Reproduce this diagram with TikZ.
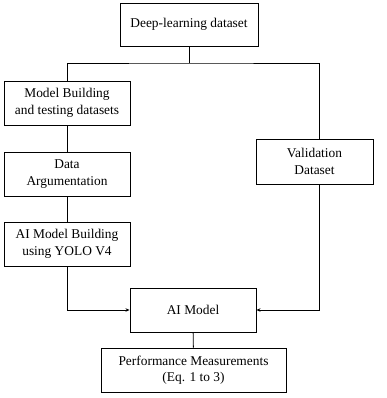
\documentclass[tikz,border=0pt]{standalone}
\usepackage{fontspec}
\setmainfont{Liberation Serif}
\usetikzlibrary{arrows.meta}
\begin{document}
\begin{tikzpicture}[x=1pt,y=-1pt,
  box/.style={draw, line width=0.9pt, align=center, inner sep=0pt,
    font=\fontsize{13.4}{16.5}\selectfont},
  link/.style={line width=0.9pt},
  arr/.style={line width=0.9pt, -{Stealth[length=4pt,width=3.5pt]}}]
\useasboundingbox (0,0) rectangle (387,398);
\node[box, minimum width=138pt, minimum height=43pt] (deep) at (189,24.5) {Deep-learning dataset};
\node[box, minimum width=126pt, minimum height=44pt] (mb) at (67,103) {Model Building\\and testing datasets};
\node[box, minimum width=126pt, minimum height=44pt] (da) at (67,174) {Data\\Argumentation};
\node[box, minimum width=126pt, minimum height=44pt] (aib) at (67,244) {AI Model Building\\using YOLO V4};
\node[box, minimum width=117pt, minimum height=45pt] (val) at (314.5,161.5) {Validation\\Dataset};
\node[box, minimum width=126pt, minimum height=44pt] (aim) at (193,310) {AI Model};
\node[box, minimum width=185pt, minimum height=44pt] (perf) at (193.5,370) {Performance Measurements\\(Eq. 1 to 3)};
\coordinate (j) at (189,63);
\coordinate (r) at (319,63);
\draw[link] (deep.south) -- (j);
\draw[link] (mb.north) |- (j) -- (r) -- (r |- val.north);
\draw[link] (mb) -- (da);
\draw[link] (da) -- (aib);
\draw[arr] (aib.south) |- (aim.west);
\draw[arr] (r |- val.south) |- (aim.east);
\draw[link] (aim) -- (perf);
\end{tikzpicture}
\end{document}
